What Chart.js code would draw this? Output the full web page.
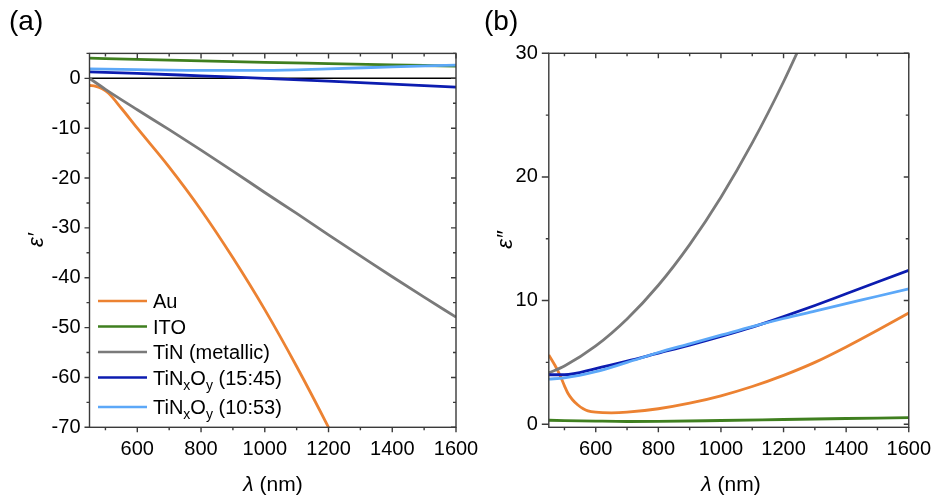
<!DOCTYPE html>
<html>
<head>
<meta charset="utf-8">
<script src="https://cdn.jsdelivr.net/npm/chart.js@4"></script>
<style>
  body { margin: 0; background: #fff; }
  #wrap { position: relative; width: 941px; height: 500px; font-family: 'Liberation Sans', Arial, sans-serif; color: #000; }
  canvas { position: absolute; top: 0; }
  .lbl { position: absolute; white-space: nowrap; }
  .panel { font-size: 28px; line-height: 32px; top: 5px; }
  .xt { font-size: 21px; line-height: 24px; top: 472px; transform: translateX(-50%); }
  .yt { font-size: 22px; line-height: 24px; font-style: italic; transform: translate(-50%, -50%) rotate(-90deg); }
</style>
</head>
<body>
<div id="wrap">
  <canvas id="chartRe" width="500" height="500" style="left:0"></canvas>
  <canvas id="chartIm" width="471" height="500" style="left:470px"></canvas>
  <div class="lbl panel" style="left:9px">(a)</div>
  <div class="lbl panel" style="left:484px">(b)</div>
  <div class="lbl xt" style="left:273px"><i>λ</i> (nm)</div>
  <div class="lbl xt" style="left:731px"><i>λ</i> (nm)</div>
  <div class="lbl yt" style="left:36px; top:240px">ε′</div>
  <div class="lbl yt" style="left:505px; top:240px">ε″</div>
</div>
<script>
// ---- data (wavelength in nm) ----
const names = ["Au", "ITO", "TiN (metallic)", "TiN_xO_y (15:45)", "TiN_xO_y (10:53)"];
const colors = ["#ec8232", "#3f7f1f", "#7a7a7a", "#0c1cb0", "#5ca8f8"];

const wlStd = [450, 600, 800, 1000, 1200, 1400, 1600];

// (a) real part
const wlAuRe = [450, 470, 490, 510, 550, 600, 700, 800, 900, 1000, 1100, 1200, 1250];
const auRe   = [-1.4, -1.6, -2.1, -3.0, -6.0, -10.0, -17.8, -26.4, -36.0, -46.4, -57.8, -70.0, -76.4];
const itoRe  = [4.05, 3.8, 3.5, 3.2, 2.95, 2.7, 2.45];
const wlTinRe = [450, 500, 600, 700, 800, 900, 1000, 1100, 1200, 1300, 1400, 1500, 1600];
const tinRe  = [0, -2.2, -6.3, -10.3, -14.4, -18.6, -22.9, -27.1, -31.4, -35.6, -39.8, -43.9, -47.9];
const tno1545Re = [1.3, 1.0, 0.5, 0.0, -0.55, -1.15, -1.75];
const tno1053Re = [1.9, 1.75, 1.6, 1.6, 1.9, 2.3, 2.65];

// (b) imaginary part
const wlAuIm = [450, 470, 485, 500, 511, 525, 543, 560, 575, 600, 650, 700, 800, 900, 1000, 1100, 1200, 1300, 1400, 1500, 1600];
const auIm   = [5.6, 4.75, 4.0, 3.1, 2.5, 2.0, 1.55, 1.25, 1.08, 0.97, 0.92, 0.97, 1.25, 1.7, 2.3, 3.05, 3.95, 5.0, 6.25, 7.6, 9.0];
const wlItoIm = [450, 600, 700, 800, 1000, 1200, 1400, 1600];
const itoIm  = [0.32, 0.25, 0.22, 0.23, 0.3, 0.38, 0.46, 0.54];
const wlTinIm = [450, 500, 600, 700, 800, 900, 1000, 1100, 1200, 1300];
const tinIm  = [4.15, 4.71, 6.33, 8.51, 11.24, 14.53, 18.36, 22.75, 27.7, 33.2];
const wlTnoIm = [450, 500, 600, 700, 800, 900, 1000, 1100, 1200, 1300, 1400, 1500, 1600];
const tno1545Im = [4.0, 4.0, 4.5, 5.1, 5.75, 6.4, 7.1, 7.85, 8.7, 9.6, 10.55, 11.5, 12.45];
const tno1053Im = [3.65, 3.75, 4.25, 5.0, 5.8, 6.5, 7.2, 7.9, 8.55, 9.15, 9.75, 10.35, 10.95];

const xTicks = [600, 800, 1000, 1200, 1400, 1600];

Chart.defaults.font.family = "'Liberation Sans', Arial, sans-serif";
Chart.defaults.font.size = 20;
Chart.defaults.color = "#000";

const pts = (xs, ys) => xs.map((x, i) => ({ x, y: ys[i] }));

function makeSets(series) {
    return series.map((s, i) => ({
        label: names[i],
        data: s,
        borderColor: colors[i],
        borderWidth: 2.8,
        pointRadius: 0,
        fill: false,
        cubicInterpolationMode: "monotone",
        clip: 0,
        order: series.length - i
    }));
}

// draw "TiN_xO_y" with small lowered letters
function richText(ctx, text, x, y, size) {
    const parts = text.split(/_(.)/);
    parts.forEach((p, i) => {
        if (!p) return;
        const sub = i % 2 === 1;
        ctx.font = `${sub ? 14 : size}px 'Liberation Sans', Arial, sans-serif`;
        ctx.fillText(p, x, sub ? y + 5 : y);
        x += ctx.measureText(p).width;
    });
}

const framePlugin = {
    id: "frame",
    beforeDatasetsDraw(chart, args, opts) {
        if (!opts.zeroLine) return;
        const { ctx, chartArea: a, scales: { y } } = chart;
        const py = y.getPixelForValue(0);
        ctx.save();
        ctx.strokeStyle = "#000";
        ctx.lineWidth = 1.5;
        ctx.beginPath();
        ctx.moveTo(a.left, py);
        ctx.lineTo(a.right, py);
        ctx.stroke();
        ctx.restore();
    },
    afterDraw(chart, args, opts) {
        const { ctx, chartArea: a, scales: { x, y } } = chart;
        ctx.save();
        ctx.strokeStyle = "#3a3a3a";
        ctx.lineWidth = 1.4;
        ctx.strokeRect(a.left, a.top, a.width, a.height);
        ctx.beginPath();
        for (let v = 500; v <= 1600; v += 100) {
            const px = x.getPixelForValue(v);
            const major = v % 200 === 0;
            ctx.moveTo(px, a.bottom); ctx.lineTo(px, a.bottom + (major ? 5 : 3));
            ctx.moveTo(px, a.top); ctx.lineTo(px, a.top + (major ? 5 : 3));
        }
        for (let v = opts.yFrom; v <= y.max + 0.01; v += 5) {
            const py = y.getPixelForValue(v);
            const major = v % 10 === 0;
            ctx.moveTo(a.left, py); ctx.lineTo(a.left - (major ? opts.yOut : 3), py);
            ctx.moveTo(a.right, py); ctx.lineTo(a.right - (major ? 5 : 3), py);
        }
        ctx.stroke();

        // legend
        const lg = opts.legend;
        let ly = lg.y;
        chart.data.datasets.forEach((ds) => {
            ctx.strokeStyle = ds.borderColor;
            ctx.lineWidth = 2.6;
            ctx.beginPath();
            ctx.moveTo(lg.x, ly); ctx.lineTo(lg.x + 49, ly);
            ctx.stroke();
            ctx.fillStyle = "#000";
            ctx.textBaseline = "alphabetic";
            richText(ctx, ds.label, lg.x + 55, ly + 7, 20);
            ly += lg.step + (ds.label.includes("_") ? 4 : 0);
        });
        ctx.restore();
    }
};

function buildChart(id, series, yOpts, box, frameOpts) {
    return new Chart(document.getElementById(id), {
        type: "line",
        data: { datasets: makeSets(series) },
        plugins: [framePlugin],
        options: {
            responsive: false,
            animation: false,
            layout: { padding: { left: 0, top: box.top, right: box.right, bottom: 0 } },
            plugins: { legend: { display: false }, tooltip: { enabled: false }, frame: frameOpts },
            scales: {
                x: {
                    type: "linear",
                    min: 450, max: 1600,
                    afterBuildTicks: s => { s.ticks = xTicks.map(v => ({ value: v })); },
                    afterFit: s => { s.height = 500 - box.bottom; },
                    grid: { display: false, drawTicks: false },
                    border: { display: false },
                    ticks: { padding: 10, maxRotation: 0, callback: v => String(v) }
                },
                y: {
                    type: "linear",
                    min: yOpts.min, max: yOpts.max,
                    afterBuildTicks: s => { s.ticks = yOpts.ticks.map(v => ({ value: v })); },
                    afterFit: s => { s.width = box.left; },
                    grid: { display: false, drawTicks: false },
                    border: { display: false },
                    ticks: { padding: yOpts.pad, callback: v => String(v) }
                }
            }
        }
    });
}

buildChart("chartRe",
    [pts(wlAuRe, auRe), pts(wlStd, itoRe), pts(wlTinRe, tinRe), pts(wlStd, tno1545Re), pts(wlStd, tno1053Re)],
    { min: -70, max: 5, ticks: [-70, -60, -50, -40, -30, -20, -10, 0], pad: 9 },
    { left: 89.5, top: 53.4, right: 44, bottom: 427.3 },
    { zeroLine: true, yFrom: -70, yOut: 5, legend: { x: 98, y: 301, step: 25.5 } });

buildChart("chartIm",
    [pts(wlAuIm, auIm), pts(wlItoIm, itoIm), pts(wlTinIm, tinIm), pts(wlTnoIm, tno1545Im), pts(wlTnoIm, tno1053Im)],
    { min: -0.25, max: 30, ticks: [0, 10, 20, 30], pad: 11 },
    { left: 78.8, top: 53.3, right: 27.7, bottom: 427.3 },
    { zeroLine: false, yFrom: 0, yOut: 7, legend: { x: 554, y: 61.7, step: 24.2 } });
</script>
</body>
</html>
